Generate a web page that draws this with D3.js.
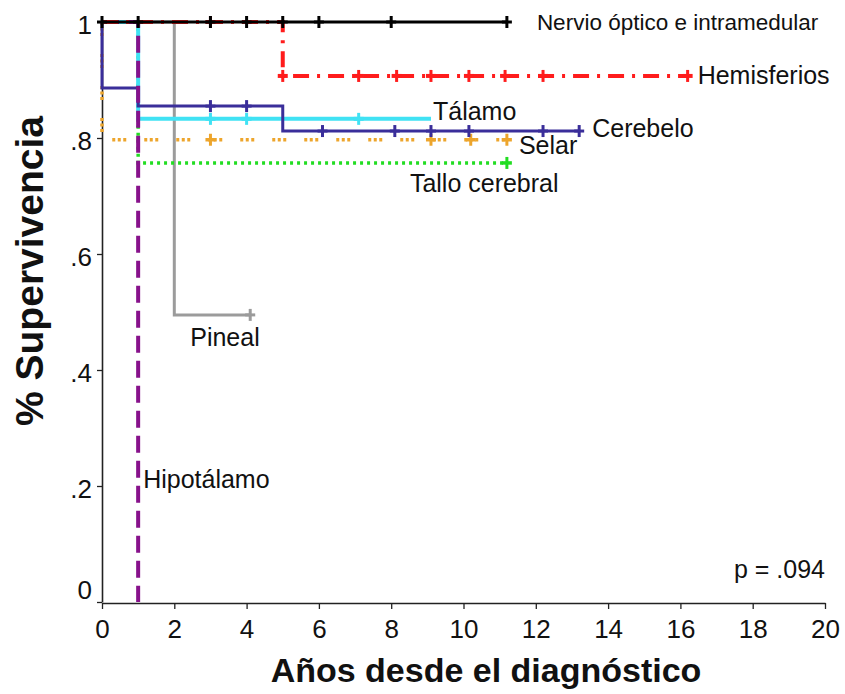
<!DOCTYPE html>
<html><head><meta charset="utf-8">
<script src="https://cdn.jsdelivr.net/npm/d3@7"></script>
<style>
body{margin:0;background:#fff}
text{font-family:"Liberation Sans",Arial,sans-serif;fill:#111}
</style>
</head><body>
<svg id="chart" width="845" height="694"></svg>
<script>
// ---- data ----
const xTicks = [0, 2, 4, 6, 8, 10, 12, 14, 16, 18, 20];
const yTicks = [0, 0.2, 0.4, 0.6, 0.8, 1];
const yTickLabels = ["0", ".2", ".4", ".6", ".8", "1"];

const nervioTimes = [0, 11.2];
const nervioSurv = [1, 1];
const nervioCensor = [0, 1, 3, 4, 5, 6, 8, 11.2];

const hemisTimes = [0, 5, 16.2];
const hemisSurv = [1, 0.907, 0.907];
const hemisCensor = [3, 5, 7.1, 8.15, 9.1, 10.15, 11.15, 12.2, 16.2];

const talamoTimes = [0, 1, 9.1];
const talamoSurv = [1, 0.833, 0.833];
const talamoCensor = [3, 4, 7.1];

const cerebeloTimes = [0, 0, 1, 5, 13.2];
const cerebeloSurv = [1, 0.886, 0.855, 0.812, 0.812];
const cerebeloCensor = [3, 4, 6.1, 8.1, 9.1, 10.15, 12.2, 13.2];

const selarTimes = [0, 0, 11.2];
const selarSurv = [1, 0.797, 0.797];
const selarCensor = [3, 9.1, 10.2, 11.2];

const talloTimes = [0, 1, 11.2];
const talloSurv = [1, 0.757, 0.757];
const talloCensor = [11.2];

const pinealTimes = [0, 2, 4.1];
const pinealSurv = [1, 0.495, 0.495];
const pinealCensor = [4.1];

const hipoTimes = [0, 1];
const hipoSurv = [1, 0];
const hipoCensor = [];

const pValue = "p = .094";

// ---- layout ----
const svg = d3.select("#chart");
const x = d3.scaleLinear().domain([0, 20]).range([102, 825]);
const y = d3.scaleLinear().domain([0, 1]).range([602, 22]);

// axes
const xAxis = svg.append("g").attr("transform", "translate(0,603)")
  .call(d3.axisBottom(x).tickValues(xTicks).tickFormat(d3.format("d")).tickSize(6).tickSizeOuter(0));
xAxis.select(".domain").attr("stroke", "#222").attr("stroke-width", 1.6);
xAxis.selectAll(".tick line").attr("stroke", "#222").attr("stroke-width", 1.3);
xAxis.selectAll(".tick text").attr("font-size", 26).attr("fill", "#111").attr("dy", "1.0em")
  .style("font-family", '"Liberation Sans",Arial,sans-serif');

const yAxis = svg.append("g").attr("transform", "translate(102,0)")
  .call(d3.axisLeft(y).tickValues(yTicks).tickFormat((d, i) => yTickLabels[i]).tickSize(5).tickSizeOuter(0));
yAxis.select(".domain").attr("stroke", "#222").attr("stroke-width", 1.6);
yAxis.selectAll(".tick line").attr("stroke", "#222").attr("stroke-width", 1.3);
yAxis.selectAll(".tick text").attr("font-size", 26).attr("fill", "#111").attr("x", -10)
  .attr("dy", (d) => d === 0 ? "-0.15em" : "0.45em")
  .style("font-family", '"Liberation Sans",Arial,sans-serif');

// series
function stepAt(times, surv, t) {
  let s = surv[0];
  for (let i = 0; i < times.length; i++) if (times[i] <= t) s = surv[i];
  return s;
}
const series = [
  {t: pinealTimes, s: pinealSurv, c: pinealCensor, color: "#9b9b9b", w: 3, dash: null},
  {t: talloTimes, s: talloSurv, c: talloCensor, color: "#22dd22", w: 3.5, dash: "3,4"},
  {t: selarTimes, s: selarSurv, c: selarCensor, color: "#eda52c", w: 3.5, dash: "3,2.5,3,2.5,3,18"},
  {t: talamoTimes, s: talamoSurv, c: talamoCensor, color: "#40e2f4", w: 4, dash: null},
  {t: cerebeloTimes, s: cerebeloSurv, c: cerebeloCensor, color: "#3a2e9a", w: 3, dash: null},
  {t: hipoTimes, s: hipoSurv, c: hipoCensor, color: "#87118b", w: 4, dash: "17,8"},
  {t: hemisTimes, s: hemisSurv, c: hemisCensor, color: "#ff1c1c", w: 4, dash: "16,8,3,8"},
  {t: nervioTimes, s: nervioSurv, c: nervioCensor, color: "#000", w: 3, dash: null}
];
const line = d3.line().x(d => x(d[0])).y(d => y(d[1])).curve(d3.curveStepAfter);
series.forEach(sr => {
  const pts = sr.t.map((t, i) => [t, sr.s[i]]);
  svg.append("path").datum(pts).attr("d", line)
    .attr("fill", "none").attr("stroke", sr.color).attr("stroke-width", sr.w)
    .attr("stroke-dasharray", sr.dash);
  const g = svg.append("g");
  g.selectAll("line.v").data(sr.c).join("line").attr("class", "v")
    .attr("x1", d => x(d)).attr("x2", d => x(d))
    .attr("y1", d => y(stepAt(sr.t, sr.s, d)) - 6)
    .attr("y2", d => y(stepAt(sr.t, sr.s, d)) + 6)
    .attr("stroke", sr.color).attr("stroke-width", 3);
  g.selectAll("line.h").data(sr.c).join("line").attr("class", "h")
    .attr("x1", d => x(d) - 5).attr("x2", d => x(d) + 5)
    .attr("y1", d => y(stepAt(sr.t, sr.s, d)))
    .attr("y2", d => y(stepAt(sr.t, sr.s, d)))
    .attr("stroke", sr.color).attr("stroke-width", sr.w);
});

// labels
const labels = [
  {text: "Nervio óptico e intramedular", x: x(11.2) + 30, y: y(1) + 8, size: 22.5},
  {text: "Hemisferios", x: x(16.2) + 10, y: y(0.907) + 8, size: 25},
  {text: "Tálamo", x: x(9.1) + 2, y: y(0.833) + 1, size: 25},
  {text: "Cerebelo", x: x(13.2) + 13, y: y(0.812) + 6, size: 25},
  {text: "Selar", x: x(11.2) + 12, y: y(0.797) + 14, size: 25},
  {text: "Tallo cerebral", x: x(11.2) - 97, y: y(0.757) + 29, size: 25},
  {text: "Pineal", x: x(4.1) - 60, y: y(0.495) + 31, size: 25},
  {text: "Hipotálamo", x: x(1) + 5, y: 488, size: 25}
];
svg.append("g").selectAll("text").data(labels).join("text")
  .attr("x", d => d.x).attr("y", d => d.y).attr("font-size", d => d.size).text(d => d.text);

svg.append("text").attr("x", 825).attr("y", 578).attr("text-anchor", "end")
  .attr("font-size", 25).text(pValue);

// axis titles
svg.append("text").attr("x", 486).attr("y", 682).attr("text-anchor", "middle")
  .attr("font-size", 34).attr("font-weight", "bold").text("Años desde el diagnóstico");
svg.append("text").attr("transform", "translate(43,271) rotate(-90)").attr("text-anchor", "middle")
  .attr("font-size", 39).attr("font-weight", "bold").text("% Supervivencia");
</script>
</body></html>
